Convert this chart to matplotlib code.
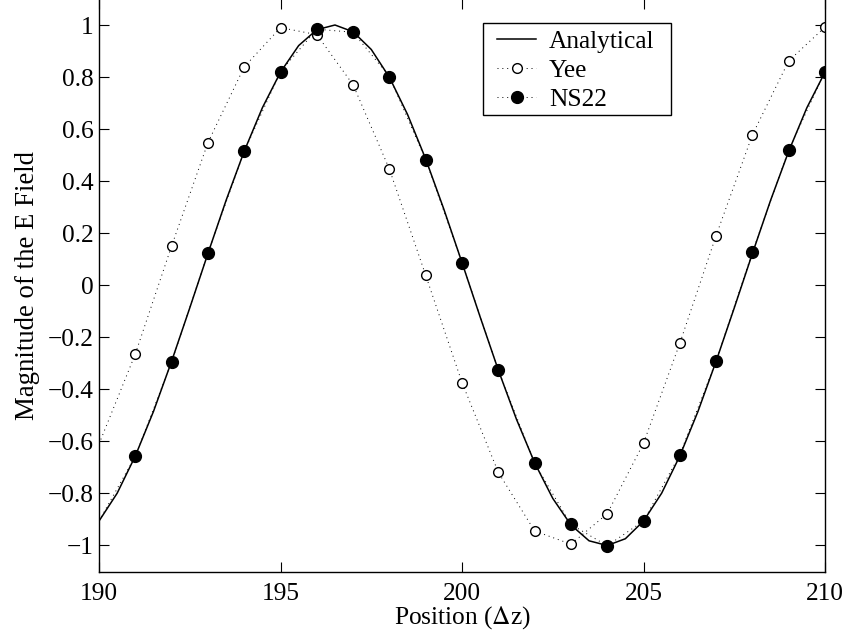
import numpy as np
import matplotlib
matplotlib.use('Agg')
import matplotlib.pyplot as plt
from matplotlib.patches import Rectangle
from matplotlib.ticker import FixedLocator, FuncFormatter

plt.rcParams['font.family'] = ['Liberation Serif', 'DejaVu Serif']
plt.rcParams['mathtext.fontset'] = 'stix'

# analytical field, sampled every half cell
x_analytical = np.arange(190, 210.01, 0.5)
e_analytical = [-0.906, -0.799, -0.656, -0.485, -0.292, -0.087, 0.122, 0.326,
                0.515, 0.682, 0.819, 0.921, 0.982, 1.000, 0.974, 0.906,
                0.799, 0.656, 0.485, 0.292, 0.087, -0.122, -0.326, -0.515,
                -0.682, -0.819, -0.921, -0.982, -1.000, -0.974, -0.906, -0.799,
                -0.656, -0.485, -0.292, -0.087, 0.122, 0.326, 0.515, 0.682,
                0.819]

# grid points
x_grid = np.arange(190, 211)
e_yee = [-0.61, -0.264, 0.151, 0.548, 0.839, 0.990, 0.963, 0.770, 0.446, 0.038,
         -0.374, -0.719, -0.944, -0.995, -0.878, -0.607, -0.223, 0.191, 0.578,
         0.862, 0.992]
e_ns22 = [-0.906, -0.657, -0.295, 0.124, 0.514, 0.821, 0.984, 0.972, 0.802,
          0.482, 0.087, -0.326, -0.684, -0.919, -1.001, -0.906, -0.651, -0.291,
          0.127, 0.520, 0.821]

fs = 18.3
fig = plt.figure(figsize=(8.5, 6.39), dpi=100)
ax = fig.add_axes([0.1165, 0.1056, 0.8541, 0.896])

dots = (0, (1, 4))
ax.plot(x_analytical, e_analytical, '-', color='black', lw=1.1, label='Analytical')
ax.plot(x_grid, e_yee, linestyle=dots, color='black', lw=0.7,
        marker='o', markersize=7, markerfacecolor='white', markeredgecolor='black',
        markeredgewidth=1.0, markevery=slice(1, None), label='Yee')
ax.plot(x_grid, e_ns22, linestyle=dots, color='black', lw=0.7,
        marker='o', markersize=8.5, markerfacecolor='black', markeredgecolor='black',
        markevery=slice(1, None), label='NS22')

def fmt(v, p):
    v = round(v, 1) + 0.0
    return ('%g' % v).replace('-', '\u2212')

ax.set_xlim(190, 210)
ax.set_ylim(-1.1, 1.1)
ax.xaxis.set_major_locator(FixedLocator([190, 195, 200, 205, 210]))
yt = np.round(np.arange(-1, 1.01, 0.2), 1)
ax.yaxis.set_major_locator(FixedLocator(yt))
ax.yaxis.set_major_formatter(FuncFormatter(fmt))
ax.tick_params(direction='in', length=7, width=0.8, top=True, right=True,
               labelsize=fs)
ax.tick_params(axis='x', pad=8)
ax.tick_params(axis='y', pad=4)
for s in ax.spines.values():
    s.set_linewidth(1.0)

ax.set_xlabel('Position ($\\Delta$z)', fontsize=fs, labelpad=0)
ax.set_ylabel('Magnitude of the E Field', fontsize=19.3, labelpad=5.5)

# legend box drawn by hand, entries placed inside it
ax.add_patch(Rectangle((0.5289, 0.7974), 0.259, 0.1606, transform=ax.transAxes,
                       facecolor='white', edgecolor='black', lw=1.0, zorder=4))
leg = ax.legend(loc='upper left', bbox_to_anchor=(0.5482, 0.9459), borderaxespad=0,
                fontsize=fs, numpoints=1, frameon=False,
                handlelength=1.54, handletextpad=0.51,
                labelspacing=0.24, borderpad=0)
leg.set_zorder(5)

fig.savefig('out.png', dpi=100)
